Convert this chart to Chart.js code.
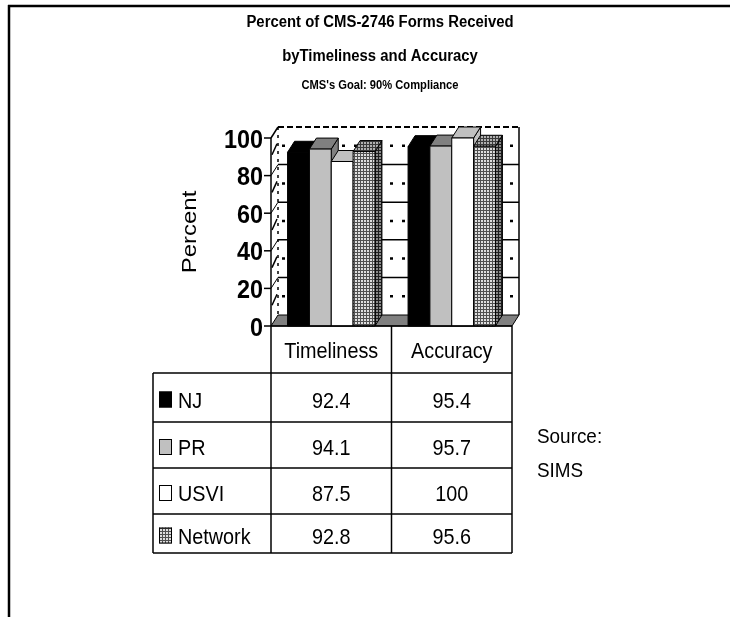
<!DOCTYPE html>
<html>
<head>
<meta charset="utf-8">
<title>Percent of CMS-2746 Forms Received</title>
<script src="https://cdn.jsdelivr.net/npm/chart.js@4/dist/chart.umd.min.js"></script>
<style>
  html, body { margin: 0; padding: 0; background: #fff; }
  #wrap { width: 730px; height: 617px; }
  canvas { display: block; }
</style>
</head>
<body>
<div id="wrap"><canvas id="c" width="730" height="617"></canvas></div>
<script>
// ---- data ----
const categories = ['Timeliness', 'Accuracy'];
const seriesNames = ['NJ', 'PR', 'USVI', 'Network'];
const njValues = [92.4, 95.4];
const prValues = [94.1, 95.7];
const usviValues = [87.5, 100];
const networkValues = [92.8, 95.6];
const yTicks = [0, 20, 40, 60, 80, 100];
const titleLines = ['Percent of CMS-2746 Forms Received', 'byTimeliness and Accuracy'];
const subtitleText = "CMS's Goal: 90% Compliance";
const yAxisTitle = 'Percent';
const sourceLines = ['Source:', 'SIMS'];

// ---- fills ----
function gridPattern(bg, line) {
  const p = document.createElement('canvas');
  p.width = 3; p.height = 3;
  const g = p.getContext('2d');
  g.fillStyle = bg; g.fillRect(0, 0, 3, 3);
  g.fillStyle = line; g.fillRect(0, 0, 3, 1); g.fillRect(0, 0, 1, 3);
  return document.getElementById('c').getContext('2d').createPattern(p, 'repeat');
}
const netFront = gridPattern('#dedede', '#505050');
const netTop = gridPattern('#b0b0b0', '#3a3a3a');
const netSide = gridPattern('#8a8a8a', '#1e1e1e');

const faceFront = ['#000000', '#c0c0c0', '#ffffff', netFront];
const faceTop = ['#000000', '#808080', '#c0c0c0', netTop];
const faceSide = ['#000000', '#808080', '#c0c0c0', netSide];

// depth of the 3-D projection
const DX = 7, DY = -11;
const FONT = '"Liberation Sans", Arial, sans-serif';

function txt(ctx, s, x, y, size, weight, align, sx) {
  ctx.save();
  ctx.font = weight + ' ' + size + 'px ' + FONT;
  ctx.fillStyle = '#000';
  ctx.textAlign = align;
  ctx.textBaseline = 'alphabetic';
  ctx.translate(x, y);
  ctx.scale(sx, 1);
  ctx.fillText(s, 0, 0);
  ctx.restore();
}

function poly(ctx, pts, fill) {
  ctx.beginPath();
  ctx.moveTo(pts[0][0], pts[0][1]);
  for (let i = 1; i < pts.length; i++) ctx.lineTo(pts[i][0], pts[i][1]);
  ctx.closePath();
  ctx.fillStyle = fill; ctx.fill();
  ctx.lineWidth = 1; ctx.strokeStyle = '#000'; ctx.stroke();
}

function line(ctx, x1, y1, x2, y2, w, dash) {
  ctx.save();
  ctx.beginPath();
  ctx.lineWidth = w; ctx.strokeStyle = '#000';
  ctx.setLineDash(dash || []);
  ctx.moveTo(x1, y1); ctx.lineTo(x2, y2);
  ctx.stroke();
  ctx.restore();
}

const box3d = {
  id: 'box3d',
  beforeDatasetsDraw(chart) {
    const ctx = chart.ctx, y = chart.scales.y, a = chart.chartArea;
    const L = a.left, R = a.right;
    const y0 = y.getPixelForValue(0), yTop = y.getPixelForValue(100);
    // back wall
    ctx.fillStyle = '#fff';
    ctx.fillRect(L + DX, yTop + DY, R - L, y0 - yTop);
    // major grid on back wall, with its run across the side wall
    for (let i = 1; i < yTicks.length - 1; i++) {
      const py = y.getPixelForValue(yTicks[i]) + DY;
      line(ctx, L + DX, py, R + DX, py, 1.5);
      line(ctx, L, py - DY, L + DX, py, 1);
    }
    // dotted minor grid halfway between ticks
    for (let i = 0; i < yTicks.length - 1; i++) {
      const v = (yTicks[i] + yTicks[i + 1]) / 2;
      const py = y.getPixelForValue(v) + DY;
      line(ctx, L + DX + 4, py, R + DX, py, 2.5, [3, 9]);
      line(ctx, L + 1, py - DY - 2, L + DX - 1, py - 2, 1.5);
    }
    // wall edges
    line(ctx, L + DX, yTop + DY, R + DX, yTop + DY, 2, [6, 3]);
    line(ctx, L + DX, yTop + DY, L + DX, y0 + DY, 1.5, [3, 5]);
    line(ctx, R + DX, yTop + DY, R + DX, y0 + DY, 1.5);
    line(ctx, L, yTop, L + DX, yTop + DY, 1.5);
    // floor
    poly(ctx, [[L, y0], [R, y0], [R + DX, y0 + DY], [L + DX, y0 + DY]], '#808080');
  },
  afterDatasetsDraw(chart) {
    // columns: side, top and front face, drawn left to right so each hides its neighbour's side
    const ctx = chart.ctx;
    const metas = chart.getSortedVisibleDatasetMetas().slice().sort((m1, m2) => m1.index - m2.index);
    metas.forEach(meta => {
      const k = meta.index;
      meta.data.forEach(bar => {
        const p = bar.getProps(['x', 'y', 'base', 'width'], true);
        const l = p.x - p.width / 2, r = p.x + p.width / 2;
        poly(ctx, [[r, p.y], [r + DX, p.y + DY], [r + DX, p.base + DY], [r, p.base]], faceSide[k]);
        poly(ctx, [[l, p.y], [l + DX, p.y + DY], [r + DX, p.y + DY], [r, p.y]], faceTop[k]);
        poly(ctx, [[l, p.y], [r, p.y], [r, p.base], [l, p.base]], faceFront[k]);
      });
    });
  },
  afterDraw(chart) {
    const ctx = chart.ctx, y = chart.scales.y, x = chart.scales.x, a = chart.chartArea;
    const L = a.left, R = a.right;
    const y0 = y.getPixelForValue(0), yTop = y.getPixelForValue(100);

    // front value axis with ticks and labels
    line(ctx, L, y0, L, yTop, 1.5);
    yTicks.forEach(v => {
      const py = y.getPixelForValue(v);
      line(ctx, L - 7, py, L, py, 1.5);
      txt(ctx, String(v), L - 8, py + 9.5, 26, 'bold', 'right', 0.9);
    });
    line(ctx, L, y0, R, y0, 1.5);

    // axis title
    ctx.save();
    ctx.translate(196, (y0 + yTop) / 2);
    ctx.rotate(-Math.PI / 2);
    ctx.scale(1.2, 1);
    ctx.font = '20px ' + FONT;
    ctx.fillStyle = '#000';
    ctx.textAlign = 'center';
    ctx.fillText(yAxisTitle, 0, 0);
    ctx.restore();

    // data table below the plot
    const colEdges = [153, L, (L + R) / 2, R];
    const rowEdges = [373, 422, 468, 514, 553];
    const tableBottom = rowEdges[rowEdges.length - 1];
    const values = [njValues, prValues, usviValues, networkValues];

    line(ctx, colEdges[1], y0, colEdges[1], tableBottom, 1.5);
    line(ctx, colEdges[2], y0, colEdges[2], tableBottom, 1.5);
    line(ctx, colEdges[3], y0, colEdges[3], tableBottom, 1.5);
    line(ctx, colEdges[0], rowEdges[0], colEdges[0], tableBottom, 1.5);
    rowEdges.forEach(py => line(ctx, colEdges[0], py, colEdges[3], py, 1.5));
    categories.forEach((c, j) => {
      txt(ctx, c, x.getPixelForValue(j), (y0 + rowEdges[0]) / 2 + 8, 22, 'normal', 'center', 0.9);
    });
    seriesNames.forEach((s, i) => {
      const cy = (rowEdges[i] + rowEdges[i + 1]) / 2 + 2;
      ctx.fillStyle = faceFront[i];
      ctx.fillRect(159, cy - 8, 13, 16);
      ctx.lineWidth = 1; ctx.strokeStyle = '#000';
      ctx.strokeRect(159.5, cy - 7.5, 12, 15);
      txt(ctx, s, 178, cy + 8, 22, 'normal', 'left', 0.9);
      values[i].forEach((v, j) => {
        txt(ctx, String(v), x.getPixelForValue(j), cy + 8, 22, 'normal', 'center', 0.9);
      });
    });

    // titles
    txt(ctx, titleLines[0], 380, 27, 16, 'bold', 'center', 0.93);
    txt(ctx, titleLines[1], 380, 61, 16, 'bold', 'center', 0.93);
    txt(ctx, subtitleText, 380, 89, 12, 'bold', 'center', 0.93);

    // source note
    txt(ctx, sourceLines[0], 537, 443, 21, 'normal', 'left', 0.9);
    txt(ctx, sourceLines[1], 537, 477, 21, 'normal', 'left', 0.9);

    // frame
    line(ctx, 8, 6, 730, 6, 2.5);
    line(ctx, 9, 5, 9, 617, 2.5);
  }
};

new Chart(document.getElementById('c'), {
  type: 'bar',
  data: {
    labels: categories,
    datasets: [njValues, prValues, usviValues, networkValues].map((vals, k) => ({
      label: seriesNames[k],
      data: vals,
      backgroundColor: 'rgba(0,0,0,0)',
      borderWidth: 0,
      categoryPercentage: 0.725,
      barPercentage: 1
    }))
  },
  options: {
    responsive: false,
    animation: false,
    devicePixelRatio: 1,
    layout: { padding: { left: 271, right: 218, top: 138, bottom: 291 } },
    plugins: { legend: { display: false }, title: { display: false }, tooltip: { enabled: false } },
    scales: {
      x: { display: false },
      y: { display: false, min: 0, max: 100, ticks: { stepSize: 20 } }
    }
  },
  plugins: [box3d]
});
</script>
</body>
</html>
